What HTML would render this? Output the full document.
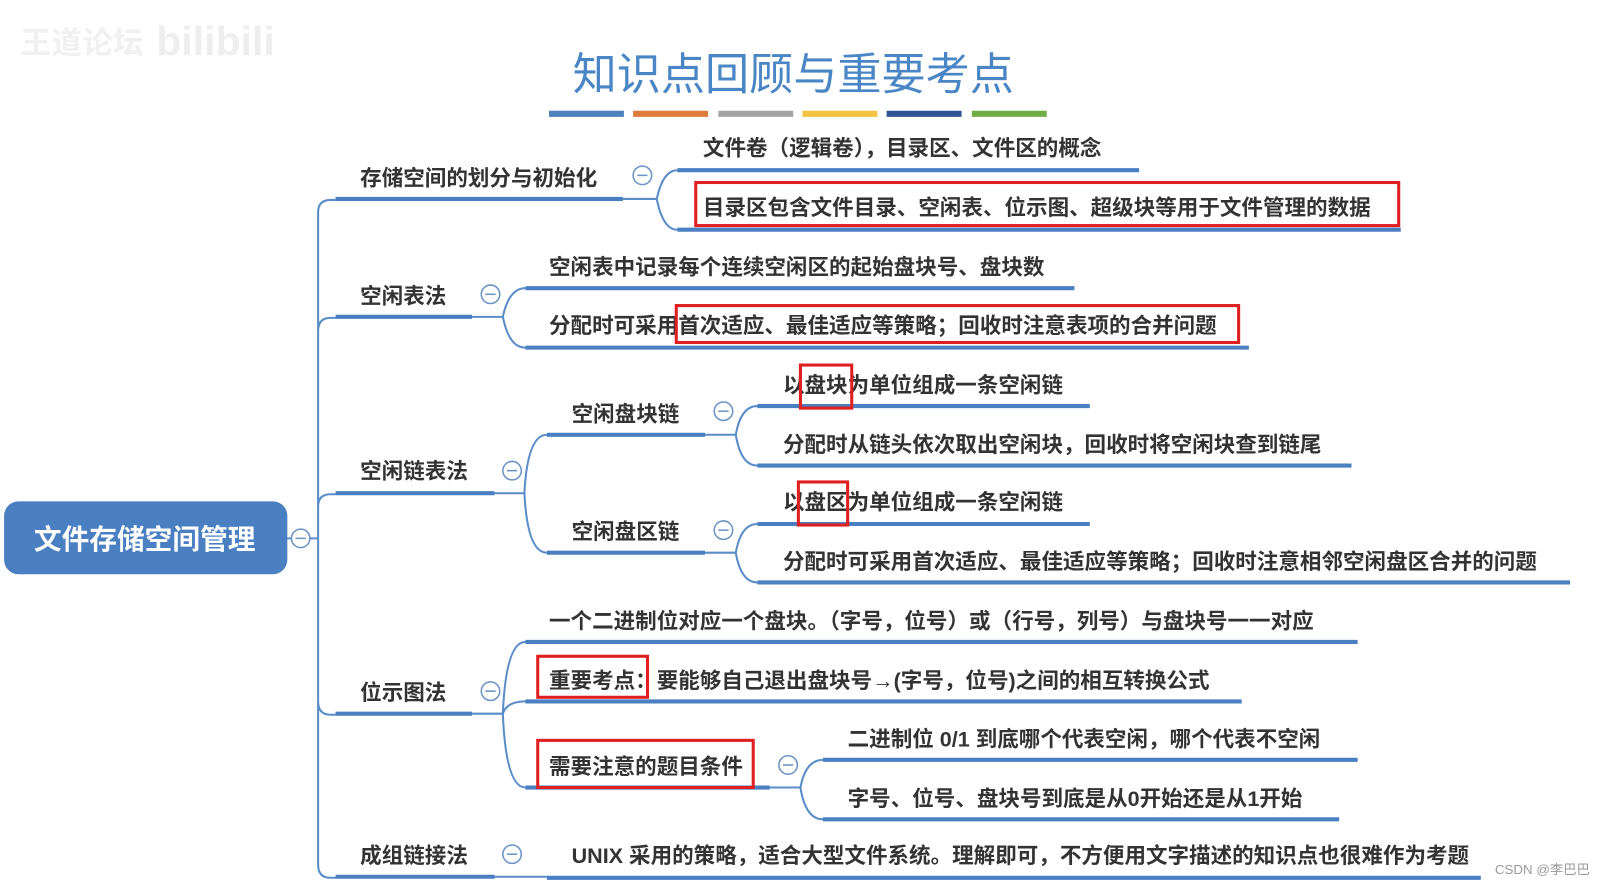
<!DOCTYPE html>
<html><head><meta charset="utf-8"><style>
html,body{margin:0;padding:0;background:#fff;width:1606px;height:887px;overflow:hidden}
svg{display:block}
text{font-family:"Liberation Sans","Noto Sans CJK SC",sans-serif;font-size:21px;font-weight:bold;fill:#333;dominant-baseline:central}
.u{stroke:#4a80c2;stroke-width:4;fill:none}
.c{stroke:#5a8cc8;stroke-width:2;fill:none}
.r{stroke:#e02020;stroke-width:3;fill:none}
.ci{fill:#fff;stroke:#6b93c6;stroke-width:1.5}
</style></head><body>
<svg width="1606" height="887" viewBox="0 0 1565 865" preserveAspectRatio="none">
<text x="80" y="42" style="font-size:30px;fill:#f0f0f0;font-weight:bold" text-anchor="middle">王道论坛</text>
<text x="210" y="40" style="font-size:40px;fill:#eeeeee;font-weight:bold" text-anchor="middle">bilibili</text>
<text x="773" y="73" text-anchor="middle" style="font-size:43px;fill:#4a86c5;font-weight:normal">知识点回顾与重要考点</text>
<g stroke-width="6">
<line x1="535" y1="111" x2="608" y2="111" stroke="#4f81bd"/>
<line x1="617" y1="111" x2="690" y2="111" stroke="#e07a3a"/>
<line x1="700" y1="111" x2="773" y2="111" stroke="#a5a5a5"/>
<line x1="782" y1="111" x2="855" y2="111" stroke="#f5c242"/>
<line x1="864" y1="111" x2="937" y2="111" stroke="#2f5597"/>
<line x1="947" y1="111" x2="1020" y2="111" stroke="#70ad47"/>
</g>
<rect x="4" y="489" width="276" height="71" rx="14" fill="#4a7fc1"/>
<text x="141" y="526" text-anchor="middle" style="font-size:27px;fill:#fff;font-weight:bold">文件存储空间管理</text>
<path class="c" d="M280 525H310"/>
<path class="c" d="M310 525V207Q310 195 322 195H327M310 525V323Q310 310 322 310H327M310 525V494Q310 482 322 482H327M310 525V684Q310 697 322 697H327M310 525V843Q310 856 322 856H327"/>
<circle class="ci" cx="293" cy="525" r="9"/><line x1="288" y1="525" x2="298" y2="525" stroke="#6b93c6" stroke-width="1.5"/>
<path class="u" d="M327 194H607M327 309H460M327 481H482M327 696H460M327 855H482"/>
<text x="351" y="174">存储空间的划分与初始化</text>
<text x="351" y="289">空闲表法</text>
<text x="351" y="460">空闲链表法</text>
<text x="351" y="676">位示图法</text>
<text x="351" y="835">成组链接法</text>
<path class="c" d="M607 194H640M640 194Q646 166 660 166M640 194Q646 224 660 224"/>
<path class="u" d="M660 166H1110M660 224H1365"/>
<text x="685" y="145">文件卷（逻辑卷），目录区、文件区的概念</text>
<text x="685" y="203">目录区包含文件目录、空闲表、位示图、超级块等用于文件管理的数据</text>
<rect class="r" x="678" y="178" width="685" height="42"/>
<path class="c" d="M460 309H490M490 309Q496 281 512 281M490 309Q496 339 512 339"/>
<path class="u" d="M512 281H1047M512 339H1217"/>
<text x="535" y="261">空闲表中记录每个连续空闲区的起始盘块号、盘块数</text>
<text x="535" y="318">分配时可采用首次适应、最佳适应等策略；回收时注意表项的合并问题</text>
<rect class="r" x="659" y="298" width="548" height="36"/>
<path class="c" d="M482 481H511M511 481Q514 424 533 424M511 481Q514 539 533 539"/>
<path class="u" d="M533 424H687M533 539H687"/>
<text x="557" y="404">空闲盘块链</text>
<text x="557" y="519">空闲盘区链</text>
<path class="c" d="M687 424H717M717 424Q722 396 738 396M717 424Q722 454 738 454M687 539H717M717 539Q722 511 738 511M717 539Q722 568 738 568"/>
<path class="u" d="M738 396H1062M738 454H1317M738 511H1062M738 568H1530"/>
<text x="763" y="376">以盘块为单位组成一条空闲链</text>
<rect class="r" x="780" y="356" width="50" height="42"/>
<text x="763" y="434">分配时从链头依次取出空闲块，回收时将空闲块查到链尾</text>
<text x="763" y="490">以盘区为单位组成一条空闲链</text>
<rect class="r" x="778" y="470" width="48" height="42"/>
<text x="763" y="548">分配时可采用首次适应、最佳适应等策略；回收时注意相邻空闲盘区合并的问题</text>
<path class="c" d="M460 696H490M490 696Q493 626 512 626M490 696Q494 684 512 684M490 696Q493 768 512 768"/>
<path class="u" d="M512 626H1323M512 684H1210M512 768H750"/>
<text x="535" y="606">一个二进制位对应一个盘块。（字号，位号）或（行号，列号）与盘块号一一对应</text>
<text x="535" y="664">重要考点：要能够自己退出盘块号→(字号，位号)之间的相互转换公式</text>
<rect class="r" x="524" y="640" width="107" height="40"/>
<text x="535" y="748">需要注意的题目条件</text>
<rect class="r" x="524" y="722" width="210" height="46"/>
<path class="c" d="M750 768H780M780 768Q785 741 802 741M780 768Q785 799 802 799"/>
<path class="u" d="M802 741H1323M802 799H1305"/>
<text x="826" y="721">二进制位 0/1 到底哪个代表空闲，哪个代表不空闲</text>
<text x="826" y="779">字号、位号、盘块号到底是从0开始还是从1开始</text>
<path class="c" d="M482 855H533"/>
<path class="u" d="M533 856H1443"/>
<text x="557" y="835">UNIX 采用的策略，适合大型文件系统。理解即可，不方便用文字描述的知识点也很难作为考题</text>
<g>
<circle class="ci" cx="626" cy="171" r="9"/><line x1="621" y1="171" x2="631" y2="171" stroke="#6b93c6" stroke-width="1.5"/>
<circle class="ci" cx="478" cy="287" r="9"/><line x1="473" y1="287" x2="483" y2="287" stroke="#6b93c6" stroke-width="1.5"/>
<circle class="ci" cx="499" cy="459" r="9"/><line x1="494" y1="459" x2="504" y2="459" stroke="#6b93c6" stroke-width="1.5"/>
<circle class="ci" cx="478" cy="674" r="9"/><line x1="473" y1="674" x2="483" y2="674" stroke="#6b93c6" stroke-width="1.5"/>
<circle class="ci" cx="499" cy="833" r="9"/><line x1="494" y1="833" x2="504" y2="833" stroke="#6b93c6" stroke-width="1.5"/>
<circle class="ci" cx="705" cy="401" r="9"/><line x1="700" y1="401" x2="710" y2="401" stroke="#6b93c6" stroke-width="1.5"/>
<circle class="ci" cx="705" cy="517" r="9"/><line x1="700" y1="517" x2="710" y2="517" stroke="#6b93c6" stroke-width="1.5"/>
<circle class="ci" cx="768" cy="746" r="9"/><line x1="763" y1="746" x2="773" y2="746" stroke="#6b93c6" stroke-width="1.5"/>
</g>
<text x="1503" y="848" text-anchor="middle" style="font-size:13px;fill:#999;font-weight:normal">CSDN @李巴巴</text>
</svg>
</body></html>
